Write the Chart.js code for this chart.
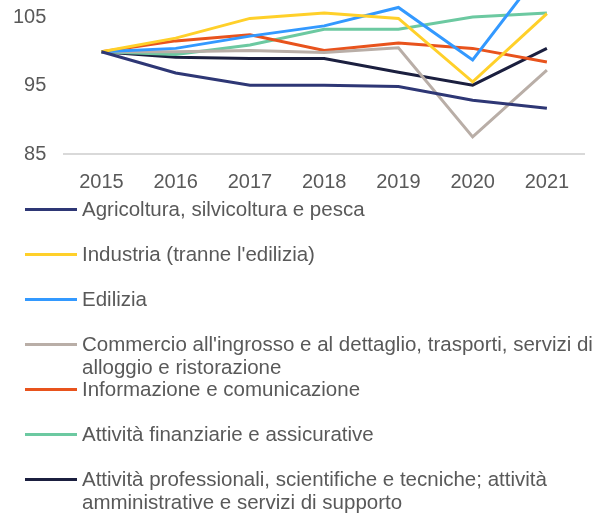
<!DOCTYPE html>
<html>
<head>
<meta charset="utf-8">
<script src="https://cdn.jsdelivr.net/npm/chart.js@4"></script>
<style>
    body { margin: 0; background: #fff; width: 603px; height: 516px; overflow: hidden; position: relative; font-family: "Liberation Sans", Arial, sans-serif; }
    #graf { position: absolute; left: -5px; top: -30px; }
    #legende { position: absolute; left: 25px; top: 197px; width: 578px; }
    .item { display: flex; align-items: flex-start; height: 45px; }
    .trait { width: 52px; height: 3px; margin-top: 11px; flex: none; }
    .txt { margin-left: 5px; font-size: 20.5px; line-height: 23px; color: #595959; width: 520px; }
</style>
</head>
<body>
<canvas id="graf" width="608" height="240"></canvas>
<div id="legende"></div>
<script>
const annees = ['2015', '2016', '2017', '2018', '2019', '2020', '2021'];
const yTicks = [85, 95, 105];

const agricoltura = [100, 96.9, 95.1, 95.1, 94.9, 92.9, 91.7];
const industria = [100, 102.0, 104.9, 105.7, 104.9, 95.6, 105.6];
const edilizia = [100, 100.5, 102.3, 103.8, 106.5, 98.8, 113];
const commercio = [100, 100.0, 100.2, 99.9, 100.6, 87.5, 97.3];
const informazione = [100, 101.6, 102.5, 100.2, 101.3, 100.5, 98.5];
const finanziarie = [100, 99.6, 101.0, 103.3, 103.3, 105.1, 105.7];
const professionali = [100, 99.2, 99.0, 99.0, 97.0, 95.1, 100.5];

const series = [
    { label: 'Agricoltura, silvicoltura e pesca', data: agricoltura, color: '#2e3775' },
    { label: 'Industria (tranne l\'edilizia)', data: industria, color: '#ffd02a' },
    { label: 'Edilizia', data: edilizia, color: '#3399ff' },
    { label: 'Commercio all\'ingrosso e al dettaglio, trasporti, servizi di alloggio e ristorazione', data: commercio, color: '#b9aea7' },
    { label: 'Informazione e comunicazione', data: informazione, color: '#e8531d' },
    { label: 'Attività finanziarie e assicurative', data: finanziarie, color: '#6cc9a1' },
    { label: 'Attività professionali, scientifiche e tecniche; attività amministrative e servizi di supporto', data: professionali, color: '#1b1f3f' }
];

const police = { family: '"Liberation Sans", Arial, sans-serif', size: 20 };

const graf = new Chart(document.getElementById('graf'), {
    type: 'line',
    data: {
        labels: annees,
        datasets: series.map(s => ({
            label: s.label,
            data: s.data,
            borderColor: s.color,
            backgroundColor: s.color,
            borderWidth: 3,
            pointRadius: 0,
            tension: 0
        }))
    },
    options: {
        responsive: false,
        animation: false,
        layout: { padding: { left: 0, right: 19, top: 0, bottom: 0 } },
        plugins: { legend: { display: false }, tooltip: { enabled: false } },
        scales: {
            x: {
                offset: true,
                grid: { display: false, drawTicks: false },
                border: { display: true, color: '#d9d9d9', width: 2 },
                ticks: { color: '#595959', font: police, padding: 16, maxRotation: 0 }
            },
            y: {
                min: 85,
                max: 107.6,
                afterBuildTicks: axis => { axis.ticks = yTicks.map(v => ({ value: v })); },
                grid: { display: false, drawTicks: false },
                border: { display: false },
                ticks: { color: '#595959', font: police, padding: 18 }
            }
        }
    }
});

// Légende
const leg = document.getElementById('legende');
series.forEach(s => {
    const it = document.createElement('div');
    it.className = 'item';
    it.innerHTML = '<div class="trait" style="background:' + s.color + '"></div><div class="txt"></div>';
    it.querySelector('.txt').textContent = s.label;
    leg.appendChild(it);
});
</script>
</body>
</html>
